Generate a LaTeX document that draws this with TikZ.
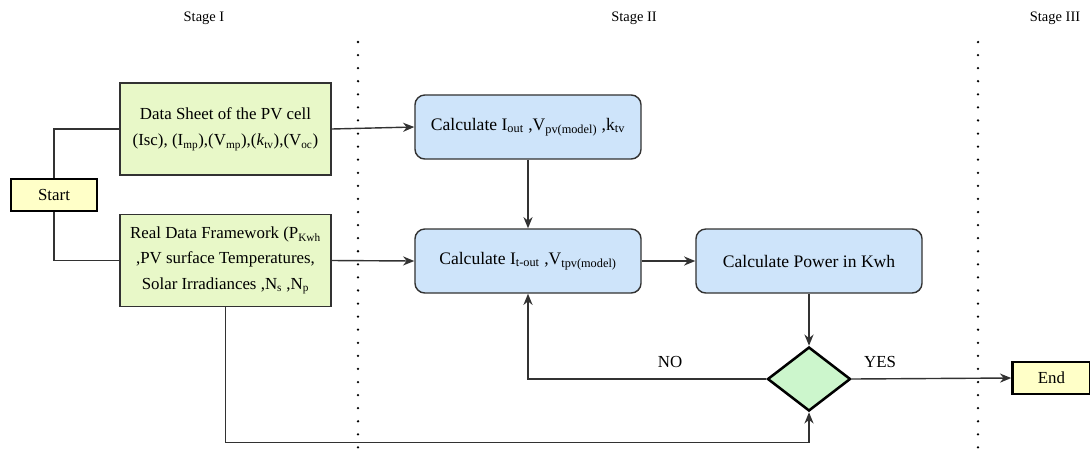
\documentclass[tikz,border=0pt]{standalone}
\usepackage{fontspec}
\setmainfont{Liberation Serif}
\usepackage{tikz}
\usetikzlibrary{shapes.geometric, arrows.meta, positioning, calc}
\definecolor{inputbg}{RGB}{232,248,200}
\definecolor{calcbg}{RGB}{206,228,250}
\definecolor{termbg}{RGB}{255,255,200}
\definecolor{decbg}{RGB}{204,246,204}
\definecolor{linegray}{RGB}{50,50,50}
\tikzset{
    inputbox/.style={rectangle, minimum width=5.275cm, minimum height=2.3cm, text centered, align=center, draw=linegray, line width=1pt, fill=inputbg, font=\fontsize{12}{19}\selectfont},
    calcbox/.style={rectangle, rounded corners=7pt, minimum width=5.65cm, minimum height=1.6cm, text centered, draw=linegray, line width=1pt, fill=calcbg, font=\fontsize{12.5}{15}\selectfont},
    termbox/.style={rectangle, minimum height=0.8cm, text centered, draw=black, line width=1.8pt, fill=termbg, font=\fontsize{12}{14}\selectfont},
    decision/.style={diamond, minimum width=2.075cm, minimum height=1.6cm, inner sep=0pt, draw=black, line width=1.8pt, fill=decbg},
    arrow/.style={line width=1pt, ->, >={Stealth[length=8pt, width=6.5pt]}, color=linegray},
    link/.style={line width=1pt, color=linegray},
    stagesep/.style={line width=1.8pt, dash pattern=on 0pt off 9.3pt, line cap=round},
    stagelabel/.style={font=\fontsize{10.3}{12}\selectfont}
}
\begin{document}
\begin{tikzpicture}[x=0.025cm, y=-0.025cm]
    \useasboundingbox (0,0) rectangle (1090,456);

    % Stage headings and separators
    \node (stage1) [stagelabel] at (204,18) {Stage I};
    \node (stage2) [stagelabel] at (634,18) {Stage II};
    \node (stage3) [stagelabel] at (1055,18) {Stage III};
    \coordinate (sepAtop) at (358,42);
    \coordinate (sepAbot) at (358,456);
    \coordinate (sepBtop) at (978,42);
    \coordinate (sepBbot) at (978,456);
    \draw [stagesep] (sepAtop) -- (sepAbot);
    \draw [stagesep] (sepBtop) -- (sepBbot);

    % Nodes
    \node (start) [termbox, minimum width=2.15cm] at (54,195) {Start};
    \node (sheet) [inputbox] at (225.5,129) {Data Sheet of the PV cell\\(Isc), (I\textsubscript{mp}),(V\textsubscript{mp}),(\textit{k}\textsubscript{tv}),(V\textsubscript{oc})};
    \node (real) [inputbox, font=\fontsize{12}{18}\selectfont] at (225.5,260.5) {Real Data Framework (P\textsubscript{Kwh}\\,PV surface Temperatures,\\Solar Irradiances ,N\textsubscript{s} ,N\textsubscript{p}};
    \node (calcone) [calcbox] at (528,127) {Calculate I\textsubscript{out} ,V\textsubscript{pv(model)} ,k\textsubscript{tv}};
    \node (calctwo) [calcbox] at (528,261) {Calculate I\textsubscript{t-out} ,V\textsubscript{tpv(model)}};
    \node (power) [calcbox] at (809,261) {Calculate Power in Kwh};
    \node (check) [decision] at (809,379) {};
    \node (finish) [termbox, minimum width=1.95cm] at (1051.5,378) {End};

    % Labels
    \node (no) [font=\fontsize{12}{14}\selectfont] at (670,362) {NO};
    \node (yes) [font=\fontsize{12}{14}\selectfont] at (880,362) {YES};

    % Arrows
    \draw [link] (start.north) |- (sheet.west);
    \draw [link] (start.south) |- (real.west);
    \draw [arrow] (sheet.east) -- (calcone.west);
    \draw [arrow] (real.east) -- (calctwo.west);
    \draw [arrow] (calcone) -- (calctwo);
    \draw [arrow] (calctwo) -- (power);
    \draw [arrow] (power) -- (check);
    \draw [arrow] (check.west) -| (calctwo.south);
    \draw [arrow] (check.east) -- (finish.west);
    \draw [arrow] (real.south) |- ++(0,135) -| (check.south);
\end{tikzpicture}
\end{document}
